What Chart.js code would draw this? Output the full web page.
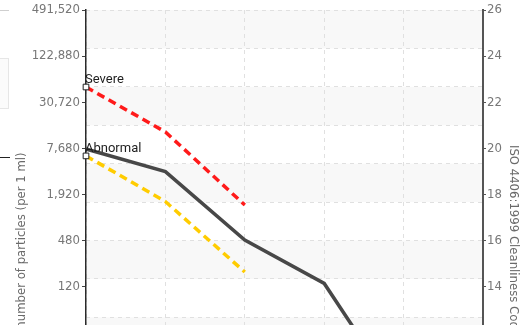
<!DOCTYPE html>
<html>
<head>
<meta charset="utf-8">
<script src="https://cdn.jsdelivr.net/npm/chart.js@4/dist/chart.umd.min.js"></script>
<style>
  html, body { margin: 0; padding: 0; background: #fff; overflow: hidden; }
  #wrap { position: relative; width: 527px; height: 325px; overflow: hidden; }
  #c { position: absolute; left: 0; top: 0; }
  .side { position: absolute; left: 0; }
</style>
</head>
<body>
<div id="wrap">
  <div class="side" style="top:10px;width:9px;height:1px;background:#cfcfcf"></div>
  <div class="side" style="top:58px;width:8px;height:49px;border-top:1px solid #e6e6e6;border-bottom:1px solid #e6e6e6;border-right:1px solid #e6e6e6;background:#fbfbfb"></div>
  <div class="side" style="top:157px;width:10px;height:1px;background:#222"></div>
  <canvas id="c" width="527" height="520"></canvas>
</div>
<script>
// Particle size channels (x axis)
const sizes = ['4 µm', '6 µm', '14 µm', '21 µm', '38 µm', '70 µm'];

// Measured particle counts per 1 ml
const measured = [7520, 3810, 485, 132, 3.6, 1.2];

// Alarm limits (counts per 1 ml) for the first three channels
const severe = [48500, 12560, 1395, null, null, null];
const abnormal = [6110, 1548, 186, null, null, null];

// Left axis ticks: particle counts, one ISO code step of 2 apart (x4)
const countTicks = [0.46875, 1.875, 7.5, 30, 120, 480, 1920, 7680, 30720, 122880, 491520];

// Right axis: ISO 4406:1999 codes
const codeTicks = [6, 8, 10, 12, 14, 16, 18, 20, 22, 24, 26];

const FONT_AXIS = '"Liberation Sans Narrow", "DejaVu Sans Condensed", "Roboto", sans-serif';
const FONT_LABEL = '"Roboto", "Liberation Sans", sans-serif';

// Alternating shaded bands between the horizontal grid lines
const bandPlugin = {
  id: 'bands',
  beforeDraw(chart) {
    const s = chart.scales.yGrid;
    const a = chart.chartArea;
    const ctx = chart.ctx;
    ctx.save();
    ctx.fillStyle = '#f8f8f8';
    for (let v = s.max; v > s.min; v -= 2) {
      const y1 = s.getPixelForValue(v);
      const y2 = s.getPixelForValue(v - 1);
      ctx.fillRect(a.left, y1, a.right - a.left, y2 - y1);
    }
    ctx.restore();
  }
};

// Names of the limit lines, written above their first point
const limitLabelPlugin = {
  id: 'limitLabels',
  afterDatasetsDraw(chart) {
    const ctx = chart.ctx;
    ctx.save();
    ctx.font = '13px ' + FONT_LABEL;
    ctx.fillStyle = '#1e1e1e';
    ctx.textAlign = 'left';
    ctx.textBaseline = 'alphabetic';
    chart.data.datasets.forEach((ds, i) => {
      if (!ds.tag) return;
      const p = chart.getDatasetMeta(i).data[0];
      ctx.fillText(ds.tag, p.x - 1, p.y - 4);
    });
    ctx.restore();
  }
};

const fmt = v => v >= 1 ? Math.round(v).toLocaleString('en-US') : String(v);

new Chart(document.getElementById('c'), {
  type: 'line',
  data: {
    labels: sizes,
    datasets: [
      {
        label: 'Severe',
        tag: 'Severe',
        data: severe,
        yAxisID: 'y',
        borderColor: '#ff1a1a',
        borderWidth: 3.5,
        borderDash: [8, 5],
        pointStyle: 'rect',
        pointRadius: [4, 0, 0, 0, 0, 0],
        pointBackgroundColor: '#ffffff',
        pointBorderColor: '#222222',
        pointBorderWidth: 1,
        tension: 0,
        spanGaps: false
      },
      {
        label: 'Abnormal',
        tag: 'Abnormal',
        data: abnormal,
        yAxisID: 'y',
        borderColor: '#ffcc00',
        borderWidth: 3.5,
        borderDash: [8, 5],
        pointStyle: 'rect',
        pointRadius: [4, 0, 0, 0, 0, 0],
        pointBackgroundColor: '#ffffff',
        pointBorderColor: '#222222',
        pointBorderWidth: 1,
        tension: 0,
        spanGaps: false
      },
      {
        label: 'Sample',
        data: measured,
        yAxisID: 'y',
        borderColor: '#484848',
        borderWidth: 3.5,
        pointRadius: 0,
        tension: 0
      }
    ]
  },
  options: {
    responsive: false,
    devicePixelRatio: 1,
    animation: false,
    events: [],
    layout: { padding: { top: 10, bottom: 9, left: 0, right: 0 } },
    plugins: {
      legend: { display: false },
      tooltip: { enabled: false }
    },
    scales: {
      x: {
        type: 'category',
        offset: false,
        grid: { color: '#e0e0e0', lineWidth: 1, drawTicks: true, tickLength: 4 },
        border: { display: true, color: '#444', width: 1.5, dash: [4, 4] },
        ticks: { color: '#777', font: { family: FONT_AXIS, size: 13 } },
        afterFit(s) { s.height = 40; }
      },
      yGrid: {
        type: 'linear',
        position: 'left',
        min: 0,
        max: 12,
        ticks: { display: false, stepSize: 1 },
        grid: { color: '#e0e0e0', lineWidth: 1, drawTicks: false },
        border: { display: false, dash: [4, 4] },
        afterFit(s) { s.width = 0; }
      },
      y: {
        type: 'logarithmic',
        position: 'left',
        min: countTicks[0],
        max: countTicks[countTicks.length - 1],
        afterBuildTicks(s) { s.ticks = countTicks.map(v => ({ value: v })); },
        ticks: {
          color: '#777',
          padding: 2,
          font: { family: FONT_AXIS, size: 13 },
          callback: v => fmt(v)
        },
        grid: { drawOnChartArea: false, drawTicks: true, tickLength: 4, color: '#444' },
        border: { display: true, color: '#2a2a2a', width: 1.5 },
        title: {
          display: true,
          text: 'number of particles (per 1 ml)',
          color: '#6a6a6a',
          font: { family: FONT_AXIS, size: 13 },
          padding: { top: 14, bottom: 0 }
        },
        afterFit(s) { s.width = 86; }
      },
      yCode: {
        type: 'linear',
        position: 'right',
        min: codeTicks[0],
        max: codeTicks[codeTicks.length - 1],
        afterBuildTicks(s) { s.ticks = codeTicks.map(v => ({ value: v })); },
        ticks: {
          color: '#777',
          padding: 1,
          font: { family: FONT_AXIS, size: 13 }
        },
        grid: { drawOnChartArea: false, drawTicks: true, tickLength: 3, color: '#555' },
        border: { display: true, color: '#555', width: 2 },
        title: {
          display: true,
          text: 'ISO 4406:1999 Cleanliness Code',
          color: '#6a6a6a',
          font: { family: FONT_AXIS, size: 13 },
          padding: { top: 6, bottom: 0 }
        },
        afterFit(s) { s.width = 44; }
      }
    }
  },
  plugins: [bandPlugin, limitLabelPlugin]
});
</script>
</body>
</html>
